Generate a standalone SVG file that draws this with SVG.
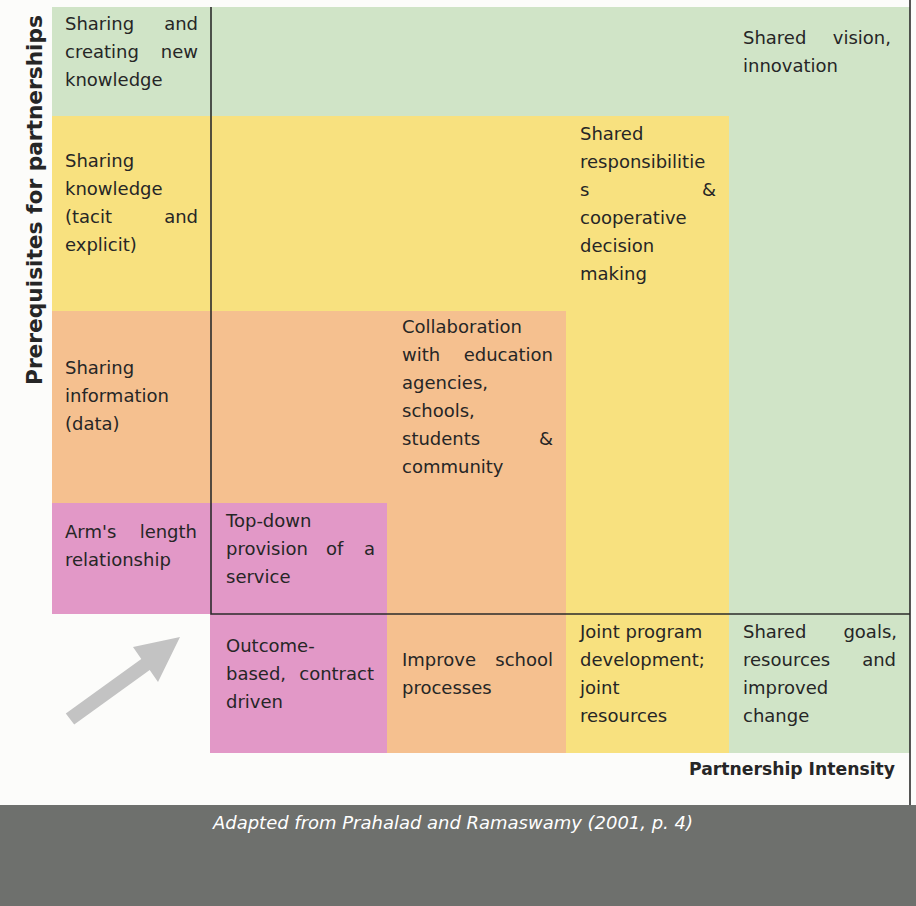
<svg xmlns="http://www.w3.org/2000/svg" width="916" height="906" viewBox="0 0 916 906">
<style>
.t{font-family:"DejaVu Sans","Liberation Sans",sans-serif;font-size:18px;fill:#262626}
.e{text-anchor:end}
.green{fill:#d0e4c7}
.yellow{fill:#f8e17f}
.orange{fill:#f5c08f}
.pink{fill:#e298c7}
.ax{stroke:#2b2b2b;stroke-width:1.6;fill:none}
</style>
<rect x="0" y="0" width="916" height="906" fill="#fcfcfa"/>
<g id="bands">
<rect class="green" x="52" y="7" width="858" height="746"/>
<rect class="yellow" x="52" y="116" width="677" height="637"/>
<rect class="orange" x="52" y="311" width="514" height="442"/>
<rect class="pink" x="52" y="503" width="335" height="111"/>
<rect class="pink" x="210" y="503" width="177" height="250"/>
<rect x="52" y="614" width="158" height="139" fill="#fcfcfa"/>
</g>
<g id="connectors">
<path class="ax" d="M211 7 V614 H910"/>
<path class="ax" d="M910 0 V805"/>
<polygon points="65.8,713.4 141.3,658.9 133,647 180,637 158,682 149.7,670.1 74.2,724.6" fill="#c3c3c3"/>
</g>
<g id="footer">
<rect x="0" y="805" width="916" height="101" fill="#6e706d"/>
<text x="213" y="829" textLength="480" lengthAdjust="spacingAndGlyphs" style="font-family:'DejaVu Sans','Liberation Sans',sans-serif;font-size:17px;font-style:italic;fill:#ffffff">Adapted from Prahalad and Ramaswamy (2001, p. 4)</text>
</g>
<g id="axis-y">
<text transform="translate(42,200) rotate(-90)" text-anchor="middle" textLength="370" lengthAdjust="spacingAndGlyphs" style="font-family:'DejaVu Sans','Liberation Sans',sans-serif;font-size:22px;font-weight:bold;fill:#262626">Prerequisites for partnerships</text>
</g>
<g id="axis-x">
<text x="895" y="775" text-anchor="end" textLength="206" lengthAdjust="spacingAndGlyphs" style="font-family:'DejaVu Sans','Liberation Sans',sans-serif;font-size:17px;font-weight:bold;fill:#262626">Partnership Intensity</text>
</g>
<g id="n-sharing-creating">
<text class="t" x="65" y="30">Sharing</text><text class="t e" x="198" y="30">and</text>
<text class="t" x="65" y="58">creating</text><text class="t e" x="198" y="58">new</text>
<text class="t" x="65" y="86">knowledge</text>
</g>
<g id="n-sharing-knowledge">
<text class="t" x="65" y="167">Sharing</text>
<text class="t" x="65" y="195">knowledge</text>
<text class="t" x="65" y="223">(tacit</text><text class="t e" x="198" y="223">and</text>
<text class="t" x="65" y="251">explicit)</text>
</g>
<g id="n-sharing-information">
<text class="t" x="65" y="374">Sharing</text>
<text class="t" x="65" y="402">information</text>
<text class="t" x="65" y="430">(data)</text>
</g>
<g id="n-arms-length">
<text class="t" x="65" y="538">Arm's</text><text class="t e" x="197" y="538">length</text>
<text class="t" x="65" y="566">relationship</text>
</g>
<g id="n-top-down">
<text class="t" x="226" y="527">Top-down</text>
<text class="t" x="226" y="555">provision</text><text class="t" x="326" y="555">of</text><text class="t e" x="375" y="555">a</text>
<text class="t" x="226" y="583">service</text>
</g>
<g id="n-outcome">
<text class="t" x="226" y="652">Outcome-</text>
<text class="t" x="226" y="680">based,</text><text class="t e" x="374" y="680">contract</text>
<text class="t" x="226" y="708">driven</text>
</g>
<g id="n-collaboration">
<text class="t" x="402" y="333">Collaboration</text>
<text class="t" x="402" y="361">with</text><text class="t e" x="553" y="361">education</text>
<text class="t" x="402" y="389">agencies,</text>
<text class="t" x="402" y="417">schools,</text>
<text class="t" x="402" y="445">students</text><text class="t e" x="553" y="445">&amp;</text>
<text class="t" x="402" y="473">community</text>
</g>
<g id="n-improve">
<text class="t" x="402" y="666">Improve</text><text class="t e" x="553" y="666">school</text>
<text class="t" x="402" y="694">processes</text>
</g>
<g id="n-shared-resp">
<text class="t" x="580" y="140">Shared</text>
<text class="t" x="580" y="168">responsibilitie</text>
<text class="t" x="580" y="196">s</text><text class="t e" x="716" y="196">&amp;</text>
<text class="t" x="580" y="224">cooperative</text>
<text class="t" x="580" y="252">decision</text>
<text class="t" x="580" y="280">making</text>
</g>
<g id="n-joint">
<text class="t" x="580" y="638">Joint program</text>
<text class="t" x="580" y="666">development;</text>
<text class="t" x="580" y="694">joint</text>
<text class="t" x="580" y="722">resources</text>
</g>
<g id="n-vision">
<text class="t" x="743" y="44">Shared</text><text class="t e" x="891" y="44">vision,</text>
<text class="t" x="743" y="72">innovation</text>
</g>
<g id="n-goals">
<text class="t" x="743" y="638">Shared</text><text class="t e" x="897" y="638">goals,</text>
<text class="t" x="743" y="666">resources</text><text class="t e" x="896" y="666">and</text>
<text class="t" x="743" y="694">improved</text>
<text class="t" x="743" y="722">change</text>
</g>
</svg>
